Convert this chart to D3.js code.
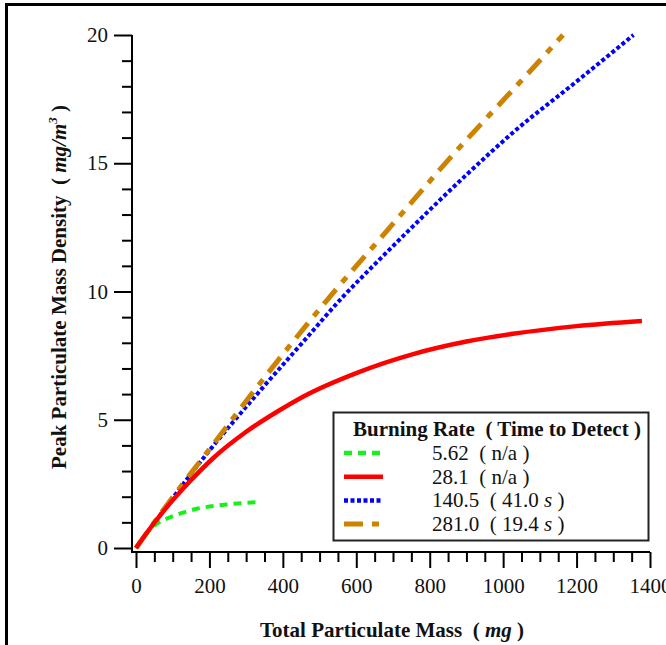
<!DOCTYPE html>
<html>
<head>
<meta charset="utf-8">
<script src="https://cdn.jsdelivr.net/npm/d3@7"></script>
<style>
  body { margin: 0; background: #fff; }
  svg { display: block; }
  text { font-family: "Liberation Serif", "Times New Roman", serif; fill: #111; white-space: pre; }
</style>
</head>
<body>
<svg id="chart" width="666" height="645"></svg>
<script>
// burning rates and the time to detect text
const rates = ['5.62', '28.1', '140.5', '281.0'];
const detect = [['n/a', ''], ['n/a', ''], ['41.0 ', 's'], ['19.4 ', 's']];
const colors = ['#19f019', '#ff0000', '#0000ff', '#cc8400'];
const dashes = ['8,6', null, '4,2.5', '19,9,7,9'];

// total particulate mass (mg) vs peak density (mg/m^3)
const mass_562 = [0, 20, 40, 57, 93, 133, 166, 207, 248, 289, 338];
const dens_562 = [0, 0.4, 0.74, 0.95, 1.2, 1.4, 1.53, 1.63, 1.7, 1.75, 1.79];

const mass_281 = [0, 37, 74, 147, 210, 302, 392, 455, 600, 755, 900, 1027, 1200, 1378];
const dens_281 = [0, 0.74, 1.42, 2.6, 3.5, 4.55, 5.38, 5.9, 6.82, 7.56, 8.05, 8.35, 8.65, 8.85];

const mass_1405 = [0, 100, 200, 330, 450, 564, 660, 755, 900, 1027, 1201, 1355];
const dens_1405 = [0, 1.95, 3.8, 6.0, 7.95, 9.8, 11.2, 12.55, 14.55, 16.2, 18.2, 20];

const mass_2810 = [0, 100, 200, 330, 428, 537, 646, 755, 855, 964, 1040, 1163];
const dens_2810 = [0, 1.98, 3.85, 6.28, 8.05, 9.95, 11.75, 13.55, 15.2, 16.9, 18.07, 20];

const xMajor = d3.range(0, 1401, 200);
const xMinor = d3.range(50, 1400, 50).filter(d => d % 200 !== 0);
const yMajor = [0, 5, 10, 15, 20];
const yMinor = d3.range(1, 20).filter(d => d % 5 !== 0);

const series = [
  { mass: mass_562, dens: dens_562 },
  { mass: mass_281, dens: dens_281 },
  { mass: mass_1405, dens: dens_1405 },
  { mass: mass_2810, dens: dens_2810 },
];

const svg = d3.select('#chart');

const x = d3.scaleLinear([0, 1400], [136, 650]);
const y = d3.scaleLinear([0, 20], [548, 35]);
const axis_x0 = 132;
const axis_y0 = 552;

// outer frame (right and bottom edges fall off the page)
svg.append('rect')
  .attr('x', 6.5).attr('y', 4.5)
  .attr('width', 700).attr('height', 700)
  .attr('fill', 'none').attr('stroke', '#000').attr('stroke-width', 3);

// axes
const yAxisMajor = d3.axisLeft(y).tickValues(yMajor).tickSize(18).tickSizeOuter(0).tickPadding(6);
const yAxisMinor = d3.axisLeft(y).tickValues(yMinor).tickSize(10).tickFormat('');
const xAxisMajor = d3.axisBottom(x).tickValues(xMajor).tickFormat(d3.format('d'))
  .tickSize(16).tickSizeOuter(0).tickPadding(10);
const xAxisMinor = d3.axisBottom(x).tickValues(xMinor).tickSize(10).tickFormat('');

const styleAxis = g => {
  g.select('.domain').remove();
  g.selectAll('line').attr('stroke', '#000').attr('stroke-width', 2);
  g.selectAll('text')
    .attr('font-family', '"Liberation Serif", serif')
    .attr('font-size', 21)
    .attr('fill', '#111');
};

svg.append('g').attr('transform', `translate(${axis_x0},0)`).call(yAxisMajor).call(styleAxis);
svg.append('g').attr('transform', `translate(${axis_x0},0)`).call(yAxisMinor).call(styleAxis);
svg.append('g').attr('transform', `translate(0,${axis_y0})`).call(xAxisMajor).call(styleAxis);
svg.append('g').attr('transform', `translate(0,${axis_y0})`).call(xAxisMinor).call(styleAxis);

svg.append('path')
  .attr('d', `M${axis_x0},${y(20)}V${axis_y0}H${x(1400)}`)
  .attr('fill', 'none').attr('stroke', '#000').attr('stroke-width', 2);

// curves
const line = d3.line()
  .x(d => x(d[0]))
  .y(d => y(d[1]))
  .curve(d3.curveMonotoneX);

const drawOrder = [2, 3, 0, 1];
drawOrder.forEach(i => {
  const pts = series[i].mass.map((m, k) => [m, series[i].dens[k]]);
  svg.append('path')
    .attr('d', line(pts))
    .attr('fill', 'none')
    .attr('stroke', colors[i])
    .attr('stroke-width', i === 1 ? 4.5 : i === 3 ? 5 : 4)
    .attr('stroke-dasharray', dashes[i]);
});

// legend
const lg = svg.append('g');
lg.append('rect')
  .attr('x', 333.5).attr('y', 412.5)
  .attr('width', 315).attr('height', 128)
  .attr('fill', '#fff').attr('stroke', '#222').attr('stroke-width', 2);

lg.append('text')
  .attr('x', 353).attr('y', 436)
  .attr('font-size', 21).attr('font-weight', 'bold')
  .text('Burning Rate  ( Time to Detect )');

rates.forEach((r, i) => {
  const ty = 460 + i * 23.7;
  lg.append('line')
    .attr('x1', 344).attr('x2', 383)
    .attr('y1', ty - 7).attr('y2', ty - 7)
    .attr('stroke', colors[i])
    .attr('stroke-width', i === 3 ? 5 : 4.5)
    .attr('stroke-dasharray', dashes[i]);
  const t = lg.append('text').attr('x', 432).attr('y', ty).attr('font-size', 21);
  t.append('tspan').text(`${r}  ( ${detect[i][0]}`);
  if (detect[i][1]) t.append('tspan').attr('font-style', 'italic').text(detect[i][1]);
  t.append('tspan').text(' )');
});

// axis titles
const xt = svg.append('text')
  .attr('x', 392).attr('y', 637)
  .attr('text-anchor', 'middle')
  .attr('font-size', 21).attr('font-weight', 'bold');
xt.append('tspan').text('Total Particulate Mass  ( ');
xt.append('tspan').attr('font-style', 'italic').text('mg');
xt.append('tspan').text(' )');

const yt = svg.append('text')
  .attr('transform', 'translate(66,287) rotate(-90)')
  .attr('text-anchor', 'middle')
  .attr('font-size', 21).attr('font-weight', 'bold');
yt.append('tspan').text('Peak Particulate Mass Density  ( ');
yt.append('tspan').attr('font-style', 'italic').text('mg/m');
yt.append('tspan').attr('font-style', 'italic').attr('font-size', 13).attr('dy', -9).text('3');
yt.append('tspan').attr('dy', 9).text(' )');
</script>
</body>
</html>
